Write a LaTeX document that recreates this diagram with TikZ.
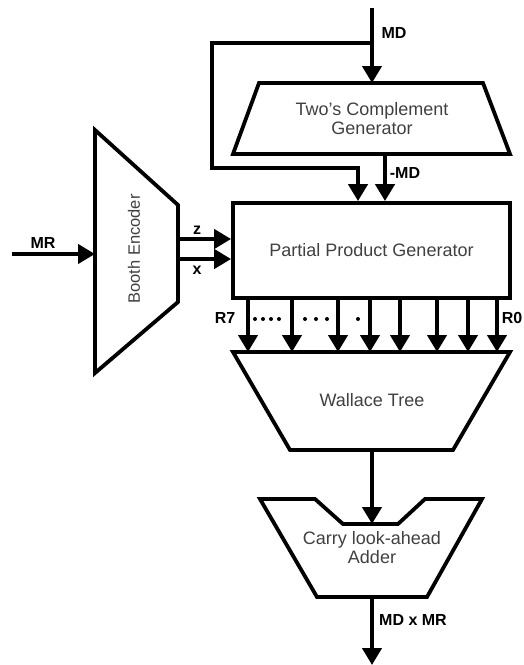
\documentclass[tikz,border=0pt]{standalone}
\usepackage{fontspec}
\setmainfont{Liberation Sans}
\usetikzlibrary{arrows.meta}
\begin{document}
\begin{tikzpicture}[x=1pt,y=-1pt,
  blk/.style={draw=black, line width=3.8pt, line join=miter},
  conn/.style={line width=4.2pt, line join=miter, -{Triangle[length=17pt,width=19pt]}},
  lbl/.style={font=\fontsize{16}{16}\selectfont\bfseries, inner sep=0pt},
  txt/.style={font=\fontsize{18}{19}\selectfont, text=black!75, align=center, inner sep=0pt},
  dotmark/.style={fill=black}]
\useasboundingbox (0,0) rectangle (523,665);

% Two's complement generator
\draw[blk] (259,83) -- (483,83) -- (510,154) -- (233,154) -- cycle;
\node[txt] (tc) at (372,119) {Two's Complement\\Generator};
\coordinate (tctop) at (372,83);
\coordinate (tcbot) at (385,154);

% Partial product generator
\node[blk, text=black!75, font=\fontsize{18}{19}\selectfont, minimum width=277pt, minimum height=95pt, inner sep=0pt] (ppg) at (371.5,250.5) {Partial Product Generator};

% Booth encoder
\draw[blk] (95,130) -- (178,205) -- (178,302) -- (95,373) -- cycle;
\node[txt, rotate=90, font=\fontsize{16.5}{17}\selectfont] (be) at (134,249) {Booth Encoder};
\coordinate (bein) at (95,254);
\coordinate (bez) at (178,239);
\coordinate (bex) at (178,259);

% Wallace tree
\draw[blk] (233,352) -- (510,352) -- (453,450) -- (290,450) -- cycle;
\node[txt] (wt) at (372,400) {Wallace Tree};
\coordinate (wttop) at (372,352);
\coordinate (wtbot) at (372,450);

% Carry look-ahead adder
\draw[blk] (260,499) -- (315,499) -- (343,524) -- (398,524) -- (425,499) -- (482,499) -- (427,597) -- (317,597) -- cycle;
\node[txt] (cla) at (372,548) {Carry look-ahead\\Adder};
\coordinate (clatop) at (372,524);
\coordinate (clabot) at (372,597);

% inputs / outputs
\coordinate (mdin) at (372,8);
\coordinate (br) at (372,43);
\coordinate (b1) at (212,43);
\coordinate (b2) at (212,168);
\coordinate (b3) at (358,168);
\coordinate (mrin) at (12,254);
\coordinate (out) at (372,665);

\draw[conn] (mdin) -- (tctop);
\draw[conn] (br) -- (b1) -- (b2) -- (b3) -- (ppg.north -| b3);
\draw[conn] (tcbot) -- (ppg.north -| tcbot);
\draw[conn] (mrin) -- (bein);
\draw[conn] (bez) -- (ppg.west |- bez);
\draw[conn] (bex) -- (ppg.west |- bex);

\foreach \x [count=\i] in {248,292,338,370,400,437,468,497} {
  \coordinate (o\i) at (\x,0);
  \draw[conn] (ppg.south -| o\i) -- (wttop -| o\i);
}

\draw[conn] (wtbot) -- (clatop);
\draw[conn] (clabot) -- (out);

% labels
\node[lbl] (lmd) at (394,33) {MD};
\node[lbl] (lnmd) at (405,173) {-MD};
\node[lbl] (lmr) at (43,243) {MR};
\node[lbl] (lz) at (197,230) {z};
\node[lbl] (lx) at (197,270) {x};
\node[lbl] (lr7) at (225,318) {R7};
\node[lbl, anchor=east] (lr0) at (522.5,318) {R0};
\node[lbl] (lout) at (413,620) {MD x MR};

% dots
\foreach \x in {255,263,271,279,305,316,327,358}
  \fill[dotmark] (\x,319) circle (2pt);
\end{tikzpicture}
\end{document}
